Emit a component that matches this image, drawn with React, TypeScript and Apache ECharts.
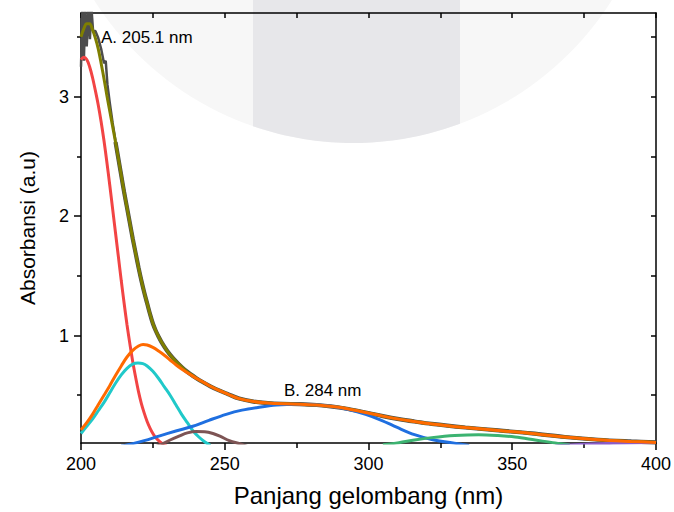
import React, { useEffect, useRef } from "react";
import * as echarts from "echarts";

// ---- data (wavelength nm, absorbance a.u.) ----
const expSpikeNm = [200, 200.5, 201, 201.5, 202, 202.6, 203.1, 203.6, 204.2, 205, 206, 207, 208, 208.6, 209.2, 210, 211, 212];
const expSpikeAbs = [3.25, 3.75, 3.3, 3.75, 3.42, 3.75, 3.48, 3.75, 3.55, 3.55, 3.49, 3.4, 3.28, 3.3, 3.1, 2.95, 2.78, 2.63];

const oliveNm = [200, 201, 202, 203, 204, 205, 206, 207, 208, 209, 210, 211, 212, 213, 214, 215, 216, 217, 218, 219, 220, 221, 222, 223, 224, 225, 226, 227, 228, 230, 232, 234, 236, 238, 240, 242, 245, 248, 251, 255, 260, 265, 270, 276, 282, 287.5, 293, 299, 305, 310.6, 316, 322, 333.7, 345.2, 356.8, 368.3, 379.9, 391.4, 400];
const oliveAbs = [3.5, 3.57, 3.61, 3.61, 3.56, 3.49, 3.4, 3.28, 3.15, 3.01, 2.88, 2.75, 2.62, 2.48, 2.34, 2.2, 2.07, 1.94, 1.81, 1.69, 1.57, 1.46, 1.36, 1.27, 1.18, 1.1, 1.04, 0.99, 0.945, 0.87, 0.81, 0.76, 0.715, 0.678, 0.645, 0.615, 0.575, 0.54, 0.51, 0.472, 0.447, 0.434, 0.428, 0.425, 0.418, 0.405, 0.385, 0.355, 0.325, 0.3, 0.28, 0.26, 0.23, 0.205, 0.18, 0.15, 0.127, 0.113, 0.105];

const redNm = [200, 201, 202, 203, 204, 205, 206, 207, 208, 209, 210, 211, 212, 213, 214, 215, 216, 217, 218, 219, 220, 221, 222, 223, 224, 225, 226, 227, 228, 229, 230];
const redAbs = [3.31, 3.33, 3.31, 3.25, 3.16, 3.05, 2.93, 2.79, 2.63, 2.45, 2.26, 2.06, 1.86, 1.66, 1.46, 1.27, 1.09, 0.93, 0.78, 0.65, 0.53, 0.43, 0.35, 0.28, 0.225, 0.18, 0.145, 0.12, 0.1, 0.085, 0.07];

const orangeNm = [200, 202, 204, 206, 208, 210, 212, 214, 216, 218, 220, 221.6, 223, 225, 227, 229, 231, 233, 235, 237, 239, 241, 243, 245, 248, 251, 255, 260, 265, 270, 276, 282, 287.5, 293, 299, 305, 310.6, 316, 322, 333.7, 345.2, 356.8, 368.3, 379.9, 391.4, 400];
const orangeAbs = [0.21, 0.27, 0.34, 0.42, 0.5, 0.58, 0.665, 0.745, 0.82, 0.875, 0.912, 0.925, 0.92, 0.9, 0.87, 0.835, 0.795, 0.755, 0.72, 0.688, 0.658, 0.63, 0.603, 0.575, 0.54, 0.51, 0.472, 0.447, 0.434, 0.428, 0.425, 0.418, 0.405, 0.385, 0.355, 0.325, 0.3, 0.28, 0.26, 0.23, 0.205, 0.18, 0.15, 0.127, 0.113, 0.105];

const cyanNm = [200, 202, 204, 206, 208, 210, 212, 214, 216, 218, 219.8, 221.5, 223, 225, 227, 229, 231, 233, 235, 237, 239, 241, 243, 245];
const cyanAbs = [0.18, 0.24, 0.3, 0.37, 0.44, 0.52, 0.6, 0.67, 0.725, 0.76, 0.77, 0.765, 0.745, 0.7, 0.64, 0.57, 0.5, 0.42, 0.34, 0.27, 0.2, 0.15, 0.11, 0.08];

const brownNm = [226, 228.5, 231, 234.3, 237, 240.1, 243, 245.9, 248.5, 251.6, 255.7, 258];
const brownAbs = [0.07, 0.094, 0.125, 0.16, 0.185, 0.197, 0.195, 0.18, 0.155, 0.12, 0.09, 0.07];

const blueNm = [214, 218, 222, 227.4, 233, 238.9, 244.5, 250.5, 256, 262, 268, 275, 281, 287.5, 293, 299, 304.5, 310, 316, 322, 331, 335];
const blueAbs = [0.075, 0.095, 0.12, 0.16, 0.2, 0.24, 0.29, 0.34, 0.375, 0.4, 0.418, 0.425, 0.42, 0.405, 0.38, 0.34, 0.29, 0.23, 0.17, 0.13, 0.094, 0.08];

const greenNm = [305, 310.6, 316, 322, 330, 338.3, 345, 351, 358, 364.9, 370];
const greenAbs = [0.085, 0.102, 0.125, 0.145, 0.163, 0.17, 0.163, 0.15, 0.125, 0.1, 0.085];

const purpleNm = [365, 372, 380, 390, 400];
const purpleAbs = [0.075, 0.085, 0.093, 0.1, 0.104];

const xTicks = [200, 250, 300, 350, 400];
const yLabelTicks = [1, 2, 3];
const yMinorTicks = [0.5, 1.5, 2.5, 3.5];
const yRightTicks = [0.5, 1, 1.5, 2, 2.5, 3, 3.5];

const zip = (xs: number[], ys: number[]) => xs.map((x, i) => [x, ys[i]]);

const FONT = "Liberation Sans, Arial, sans-serif";

function wmCircleBand(cx: number, cy: number, r: number, x0: number, x1: number) {
  const pts: number[][] = [[x0, 0], [x1, 0]];
  for (let i = 0; i <= 40; i++) {
    const x = x1 - ((x1 - x0) * i) / 40;
    const dx = x - cx;
    pts.push([x, cy + Math.sqrt(r * r - dx * dx)]);
  }
  return pts;
}

export default function App() {
  const ref = useRef<HTMLDivElement>(null);
  useEffect(() => {
    if (!ref.current) return;
    const chart = echarts.init(ref.current, null, { renderer: "svg" });
    const axisLineStyle = { color: "#000", width: 1.5 };
    const line = (name: string, data: number[][], color: string, width = 3, smooth: any = 0.35) => ({
      type: "line",
      name,
      data,
      smooth,
      symbol: "none",
      showSymbol: false,
      lineStyle: { color, width },
      itemStyle: { color },
      z: 2,
    });
    const cx = 353, cy = -163, r = 306;
    const tailStart = oliveNm.indexOf(212);
    chart.setOption({
      animation: false,
      backgroundColor: "#fff",
      graphic: [
        { type: "circle", z: -10, shape: { cx, cy, r }, style: { fill: "#f7f7f7" }, silent: true },
        { type: "polygon", z: -9, shape: { points: wmCircleBand(cx, cy, r, 253, 460) }, style: { fill: "#e7e7ea" }, silent: true },
        { type: "text", z: 10, x: 101, y: 37, style: { text: "A. 205.1 nm", fontSize: 17, fontFamily: FONT, fill: "#000", verticalAlign: "middle" } },
        { type: "text", z: 10, x: 284, y: 390, style: { text: "B. 284 nm", fontSize: 17, fontFamily: FONT, fill: "#000", verticalAlign: "middle" } },
      ],
      grid: { left: 81, right: 15, top: 13, bottom: 69, containLabel: false },
      xAxis: [
        {
          type: "value",
          min: 200,
          max: 400,
          interval: 50,
          position: "bottom",
          axisLine: { show: true, onZero: false, lineStyle: axisLineStyle },
          axisTick: { show: true, inside: false, length: 7, lineStyle: axisLineStyle, customValues: xTicks },
          minorTick: { show: true, splitNumber: 2, length: 5, lineStyle: axisLineStyle },
          axisLabel: { fontSize: 18, color: "#000", margin: 12, fontFamily: FONT, customValues: xTicks },
          splitLine: { show: false },
          minorSplitLine: { show: false },
          name: "Panjang gelombang (nm)",
          nameLocation: "middle",
          nameGap: 40,
          nameTextStyle: { fontSize: 24, color: "#000", fontFamily: FONT },
        },
        {
          type: "value",
          min: 200,
          max: 400,
          interval: 25,
          position: "top",
          axisLine: { show: true, onZero: false, lineStyle: axisLineStyle },
          axisTick: { show: true, inside: true, length: 5, lineStyle: axisLineStyle },
          axisLabel: { show: false },
          splitLine: { show: false },
        },
      ],
      yAxis: [
        {
          type: "value",
          min: 0.1,
          max: 3.7,
          position: "left",
          axisLine: { show: true, onZero: false, lineStyle: axisLineStyle },
          axisTick: { show: true, inside: false, length: 7, lineStyle: axisLineStyle, customValues: yLabelTicks },
          axisLabel: { fontSize: 18, color: "#000", margin: 12, fontFamily: FONT, customValues: yLabelTicks },
          splitLine: { show: false },
          name: "Absorbansi (a.u)",
          nameLocation: "middle",
          nameGap: 43,
          nameTextStyle: { fontSize: 21, color: "#000", fontFamily: FONT },
        },
        {
          type: "value",
          min: 0.1,
          max: 3.7,
          position: "left",
          axisLine: { show: false, onZero: false },
          axisTick: { show: true, inside: false, length: 4, lineStyle: axisLineStyle, customValues: yMinorTicks },
          axisLabel: { show: false },
          splitLine: { show: false },
        },
        {
          type: "value",
          min: 0.1,
          max: 3.7,
          position: "right",
          axisLine: { show: true, onZero: false, lineStyle: axisLineStyle },
          axisTick: { show: true, inside: true, length: 5, lineStyle: axisLineStyle, customValues: yRightTicks },
          axisLabel: { show: false },
          splitLine: { show: false },
        },
      ],
      series: [
        line("Experimental", zip(expSpikeNm, expSpikeAbs), "#4d4d4d", 2.5, false),
        line("Experimental smooth", zip(oliveNm.slice(tailStart), oliveAbs.slice(tailStart)), "#4d4d4d", 4.2),
        line("Cumulative fit", zip(oliveNm, oliveAbs), "#7f7f00", 3),
        line("Peak 1", zip(redNm, redAbs), "#f24444", 3),
        line("Peak 2", zip(cyanNm, cyanAbs), "#20c9c9", 3),
        line("Peak 3", zip(brownNm, brownAbs), "#7d5454", 3),
        line("Peak 4", zip(blueNm, blueAbs), "#1f6fe0", 3),
        line("Peak 5", zip(greenNm, greenAbs), "#3cb371", 3),
        line("Peak 6", zip(purpleNm, purpleAbs), "#8a5cc9", 3),
        line("Fit", zip(orangeNm, orangeAbs), "#ff6a00", 3),
      ],
    });
    return () => chart.dispose();
  }, []);
  return <div ref={ref} style={{ width: 674, height: 512, position: "absolute", left: 0, top: 0 }} />;
}
